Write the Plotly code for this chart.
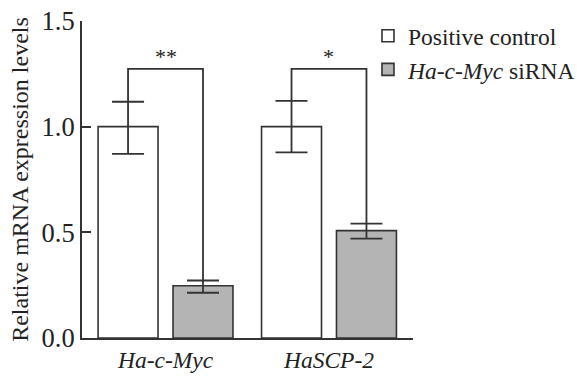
import plotly.graph_objects as go

categories = ["Ha-c-Myc", "HaSCP-2"]
tick_labels = ["<i>Ha-c-Myc</i>", "<i>HaSCP-2</i>"]
control_vals = [1.0, 1.0]
control_err_plus = [0.118, 0.122]
control_err_minus = [0.129, 0.122]
sirna_vals = [0.247, 0.508]
sirna_err_plus = [0.025, 0.033]
sirna_err_minus = [0.033, 0.038]
sig_labels = ["**", "*"]
bracket_level = 1.273

FONT = "Liberation Serif, Times New Roman, serif"
LINE = "#333333"
GRAY = "#b4b4b4"
BARGAP = 0.083
BARGROUPGAP = 0.2

fig = go.Figure()
fig.add_trace(go.Bar(
    x=categories, y=control_vals, name="Positive control",
    marker=dict(color="white", line=dict(color=LINE, width=1.6)),
    error_y=dict(type="data", symmetric=False, array=control_err_plus,
                 arrayminus=control_err_minus, color=LINE, thickness=1.8, width=16),
))
fig.add_trace(go.Bar(
    x=categories, y=sirna_vals, name="<i>Ha-c-Myc</i> siRNA",
    marker=dict(color=GRAY, line=dict(color=LINE, width=1.6)),
    error_y=dict(type="data", symmetric=False, array=sirna_err_plus,
                 arrayminus=sirna_err_minus, color=LINE, thickness=1.8, width=16),
))

# significance brackets
slot = (1 - BARGAP) / 2
for i, lab in enumerate(sig_labels):
    xl = i - slot / 2
    xr = i + slot / 2
    yl = control_vals[i] + control_err_plus[i]
    yr = sirna_vals[i] + sirna_err_plus[i]
    fig.add_shape(type="path",
                  path=f"M {xl} {yl} L {xl} {bracket_level} L {xr} {bracket_level} L {xr} {yr}",
                  xref="x", yref="y", line=dict(color=LINE, width=1.8))
    fig.add_annotation(x=i, y=bracket_level, xref="x", yref="y", text=lab,
                       showarrow=False, yanchor="bottom", yshift=-2,
                       font=dict(family=FONT, size=22, color="#222222"))

fig.update_layout(
    width=577, height=376,
    margin=dict(l=82, r=164, t=21, b=38, autoexpand=False),
    paper_bgcolor="white", plot_bgcolor="white",
    barmode="group", bargap=BARGAP, bargroupgap=BARGROUPGAP,
    font=dict(family=FONT, size=24, color="#222222"),
    showlegend=True,
    legend=dict(x=0.864, y=1.022, xanchor="left", yanchor="top",
                bgcolor="rgba(0,0,0,0)", font=dict(family=FONT, size=23.5),
                traceorder="normal"),
)
fig.update_xaxes(
    range=[-0.511, 1.514], tickmode="array", tickvals=categories, ticktext=tick_labels,
    showline=True, linecolor=LINE, linewidth=2, ticks="", showgrid=False,
    zeroline=False, tickfont=dict(family=FONT, size=23.5),
)
fig.update_yaxes(
    range=[0, 1.5], tickvals=[0, 0.5, 1.0, 1.5], ticktext=["0.0", "0.5", "1.0", "1.5"],
    showline=True, linecolor=LINE, linewidth=2, ticks="inside", ticklen=9,
    tickwidth=1.8, tickcolor=LINE, showgrid=False, zeroline=False,
    title=dict(text="Relative mRNA expression levels", standoff=6,
               font=dict(family=FONT, size=24)),
    tickfont=dict(family=FONT, size=26.5),
)

fig.write_html("out.html")
